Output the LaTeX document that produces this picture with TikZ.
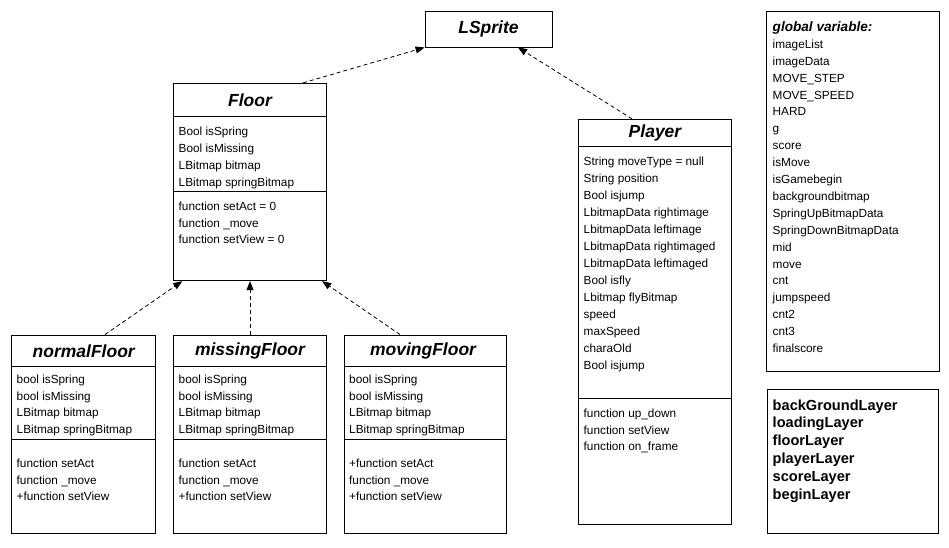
\documentclass[tikz,border=0pt]{standalone}
\usepackage{fontspec}
\setmainfont{Liberation Sans}
\usetikzlibrary{arrows.meta,calc}
\begin{document}
\begin{tikzpicture}[x=1pt,y=-1pt,
  box/.style={draw, line width=0.9pt, rectangle, inner sep=0pt},
  sepline/.style={line width=0.9pt},
  ttl/.style={font=\fontsize{17.5}{20}\selectfont\bfseries\itshape, inner sep=0pt},
  txt/.style={font=\fontsize{11.8}{14}\selectfont, anchor=base west, inner sep=0pt},
  gttl/.style={font=\fontsize{13.6}{16}\selectfont\bfseries\itshape, anchor=base west, inner sep=0pt},
  btxt/.style={font=\fontsize{14.6}{17}\selectfont\bfseries, anchor=base west, inner sep=0pt},
  dep/.style={dash pattern=on 4pt off 3pt, line width=0.8pt, -{Triangle[length=9pt,width=7pt]}}
]
\useasboundingbox (0,0) rectangle (949,547);

% LSprite
\node[box, minimum width=127pt, minimum height=36pt] (lsprite) at (488.5,29) {};
\node[ttl] (lsprite-t) at (lsprite) {LSprite};

% Floor
\node[box, minimum width=153.4pt, minimum height=197.4pt] (floor) at (250,182) {};
\node[ttl] (floor-t) at (250,100) {Floor};
\draw[sepline] (173.3,116.7) -- (326.7,116.7);
\draw[sepline] (173.3,191.7) -- (326.7,191.7);
\foreach \t [count=\i from 0] in {Bool isSpring, Bool isMissing, LBitmap bitmap, LBitmap springBitmap}
  \node[txt] (floor-a\i) at (178.5,135.7+16.8*\i) {\t};
\foreach \t [count=\i from 0] in {function setAct = 0, function \_move, function setView = 0}
  \node[txt] (floor-m\i) at (178.5,210.3+16.8*\i) {\t};

% Player
\node[box, minimum width=153.4pt, minimum height=404.7pt] (player) at (655,321.65) {};
\node[ttl] (player-t) at (655,132.7) {Player};
\draw[sepline] (578.3,146) -- (731.7,146);
\draw[sepline] (578.3,398.3) -- (731.7,398.3);
\foreach \t [count=\i from 0] in {String moveType = null, String position, Bool isjump, LbitmapData rightimage, LbitmapData leftimage, LbitmapData rightimaged, LbitmapData leftimaged, Bool isfly, Lbitmap flyBitmap, speed, maxSpeed, charaOld, Bool isjump}
  \node[txt] (player-a\i) at (583.5,165.7+17*\i) {\t};
\foreach \t [count=\i from 0] in {function up\_down, function setView, function on\_frame}
  \node[txt] (player-m\i) at (583.5,417.3+16.7*\i) {\t};

% normalFloor
\node[box, minimum width=144pt, minimum height=198.3pt] (normal) at (83.7,434.15) {};
\node[ttl] (normal-t) at (83.7,350.9) {normalFloor};
\draw[sepline] (11.7,366.7) -- (155.7,366.7);
\draw[sepline] (11.7,439.3) -- (155.7,439.3);
\foreach \t [count=\i from 0] in {bool isSpring, bool isMissing, LBitmap bitmap, LBitmap springBitmap}
  \node[txt] (normal-a\i) at (16.5,383.3+16.7*\i) {\t};
\foreach \t [count=\i from 0] in {function setAct, function \_move, +function setView}
  \node[txt] (normal-m\i) at (16.5,467.3+16.7*\i) {\t};

% missingFloor
\node[box, minimum width=153.4pt, minimum height=198.3pt] (missing) at (250,434.15) {};
\node[ttl] (missing-t) at (250,350.9) {missingFloor};
\draw[sepline] (173.3,366.7) -- (326.7,366.7);
\draw[sepline] (173.3,439.3) -- (326.7,439.3);
\foreach \t [count=\i from 0] in {bool isSpring, bool isMissing, LBitmap bitmap, LBitmap springBitmap}
  \node[txt] (missing-a\i) at (178.5,383.3+16.7*\i) {\t};
\foreach \t [count=\i from 0] in {function setAct, function \_move, +function setView}
  \node[txt] (missing-m\i) at (178.5,467.3+16.7*\i) {\t};

% movingFloor
\node[box, minimum width=162.7pt, minimum height=198.3pt] (moving) at (425.35,434.15) {};
\node[ttl] (moving-t) at (423,350.9) {movingFloor};
\draw[sepline] (344,366.7) -- (506.7,366.7);
\draw[sepline] (344,439.3) -- (506.7,439.3);
\foreach \t [count=\i from 0] in {bool isSpring, bool isMissing, LBitmap bitmap, LBitmap springBitmap}
  \node[txt] (moving-a\i) at (349,383.3+16.7*\i) {\t};
\foreach \t [count=\i from 0] in {+function setAct, function \_move, +function setView}
  \node[txt] (moving-m\i) at (349,467.3+16.7*\i) {\t};

% global variables
\node[box, minimum width=172.3pt, minimum height=360pt] (global) at (852.85,191) {};
\node[gttl] (global-t) at (772.5,31) {global variable:};
\foreach \t [count=\i from 0] in {imageList, imageData, MOVE\_STEP, MOVE\_SPEED, HARD, g, score, isMove, isGamebegin, backgroundbitmap, SpringUpBitmapData, SpringDownBitmapData, mid, move, cnt, jumpspeed, cnt2, cnt3, finalscore}
  \node[txt] (global-\i) at (772.5,48.3+16.9*\i) {\t};

% layers
\node[box, minimum width=171pt, minimum height=144pt] (layers) at (852.8,461.3) {};
\foreach \t [count=\i from 0] in {backGroundLayer, loadingLayer, floorLayer, playerLayer, scoreLayer, beginLayer}
  \node[btxt] (layer-\i) at (772.5,410+17.8*\i) {\t};

% inheritance connectors
\draw[dep] ([xshift=53pt]floor.north) -- (lsprite.south west);
\draw[dep] ([xshift=-23pt]player.north) -- ([xshift=29.5pt]lsprite.south);
\draw[dep] ([xshift=21.3pt]normal.north) -- ([xshift=9.4pt]floor.south west);
\draw[dep] (missing.north) -- (floor.south);
\draw[dep] ([xshift=-25.35pt]moving.north) -- ([xshift=-5pt]floor.south east);
\end{tikzpicture}
\end{document}
